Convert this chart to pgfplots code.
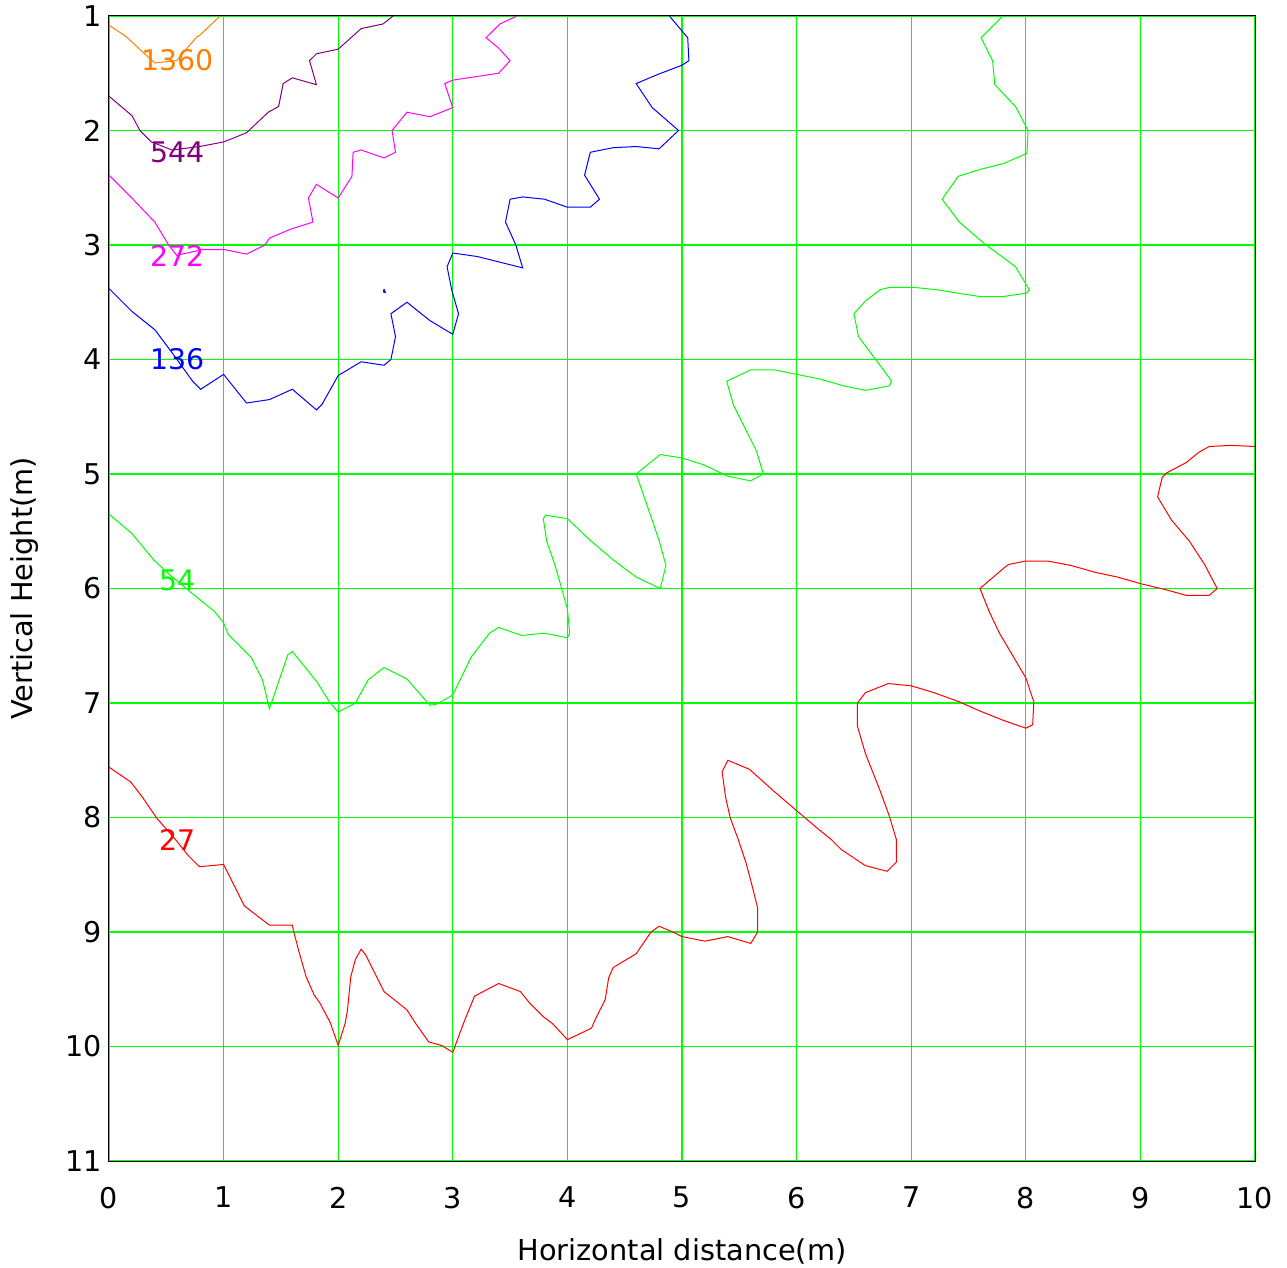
\documentclass[border=0pt]{standalone}
\usepackage{pgfplots}
\pgfplotsset{compat=1.18}
\usepackage{fontspec}
\setmainfont{DejaVu Sans}
\definecolor{corange}{RGB}{255,128,0}
\definecolor{cpurple}{RGB}{128,0,128}
\definecolor{cmagenta}{RGB}{255,0,255}
\definecolor{cblue}{RGB}{0,0,255}
\definecolor{cgreen}{RGB}{0,255,0}
\definecolor{cred}{RGB}{255,0,0}
\begin{document}
\begin{tikzpicture}
\begin{axis}[name=ax, scale only axis, width=573pt, height=572.5pt,
  xmin=0, xmax=10, ymin=1, ymax=11, y dir=reverse,
  xtick={0,...,10}, ytick={1,...,11},
  grid=major, grid style={draw=cgreen, line width=0.6pt},
  major grid style={draw=cgreen, line width=0.6pt},
  axis line style={black, line width=0.5pt},
  major tick length=0pt,
  tick label style={font=\fontsize{14.3}{16}\selectfont},
  /pgf/number format/assume math mode=true,
  xticklabel style={yshift=-9.5pt},
  xlabel={Horizontal distance(m)}, ylabel={Vertical Height(m)},
  label style={font=\fontsize{14.4}{16}\selectfont},
  xlabel style={yshift=-8pt},
  ylabel style={yshift=6.5pt},
  every axis plot/.append style={line width=0.5pt, mark=none},
  clip=true]
\addplot[corange] coordinates {(0,1.08) (0.15,1.18) (0.30,1.32) (0.40,1.41) (0.59,1.39) (0.69,1.27) (0.77,1.18) (0.79,1.17) (0.97,1.0)};
\addplot[cpurple] coordinates {(0,1.70) (0.20,1.87) (0.27,2.0) (0.37,2.10) (0.55,2.17) (0.79,2.14) (1.0,2.10) (1.20,2.02) (1.39,1.84) (1.48,1.79) (1.52,1.59) (1.60,1.54) (1.81,1.60) (1.75,1.39) (1.81,1.33) (2.0,1.29) (2.20,1.11) (2.39,1.07) (2.48,1.0)};
\addplot[cmagenta] coordinates {(0,2.39) (0.20,2.59) (0.40,2.80) (0.52,3.0) (0.59,3.09) (0.82,3.04) (1.01,3.04) (1.20,3.08) (1.36,3.0) (1.40,2.94) (1.59,2.86) (1.78,2.80) (1.74,2.59) (1.81,2.47) (2.0,2.59) (2.12,2.40) (2.13,2.19) (2.20,2.17) (2.40,2.24) (2.50,2.19) (2.47,2.0) (2.60,1.84) (2.80,1.88) (3.0,1.80) (2.93,1.59) (3.0,1.56) (3.40,1.50) (3.50,1.39) (3.40,1.28) (3.29,1.19) (3.41,1.07) (3.56,1.0)};
\addplot[cblue] coordinates {(0,3.38) (0.20,3.58) (0.40,3.74) (0.55,3.94) (0.73,4.19) (0.80,4.26) (1.0,4.13) (1.20,4.38) (1.40,4.35) (1.60,4.26) (1.81,4.44) (1.86,4.39) (2.0,4.14) (2.20,4.02) (2.40,4.05) (2.46,4.0) (2.50,3.80) (2.46,3.60) (2.60,3.50) (2.80,3.66) (3.0,3.78) (3.05,3.60) (2.99,3.39) (2.95,3.19) (3.0,3.07) (3.21,3.10) (3.61,3.20) (3.55,3.0) (3.46,2.80) (3.50,2.60) (3.61,2.58) (3.80,2.60) (4.0,2.67) (4.20,2.67) (4.28,2.60) (4.15,2.39) (4.20,2.19) (4.40,2.15) (4.60,2.14) (4.80,2.16) (4.97,2.0) (4.74,1.80) (4.60,1.59) (4.79,1.51) (5.0,1.43) (5.06,1.39) (5.05,1.19) (4.89,1.0)};
\addplot[cblue] coordinates {(2.400,3.385) (2.412,3.415) (2.395,3.41) (2.400,3.385)};
\addplot[cgreen] coordinates {(0,5.35) (0.20,5.52) (0.39,5.75) (0.53,5.88) (0.71,6.03) (0.92,6.20) (1.0,6.30) (1.04,6.40) (1.24,6.60) (1.34,6.80) (1.40,7.05) (1.56,6.58) (1.60,6.55) (1.81,6.81) (1.93,7.0) (2.0,7.08) (2.15,7.0) (2.26,6.80) (2.40,6.69) (2.60,6.79) (2.80,7.02) (2.86,7.01) (3.0,6.93) (3.16,6.60) (3.32,6.39) (3.40,6.34) (3.60,6.41) (3.80,6.39) (4.0,6.43) (4.02,6.39) (4.0,6.18) (3.95,6.0) (3.89,5.79) (3.82,5.59) (3.79,5.39) (3.81,5.36) (4.0,5.39) (4.20,5.58) (4.40,5.75) (4.60,5.90) (4.81,6.0) (4.86,5.80) (4.80,5.58) (4.67,5.20) (4.60,5.0) (4.81,4.83) (5.0,4.86) (5.19,4.92) (5.40,5.02) (5.60,5.06) (5.71,5.0) (5.65,4.80) (5.55,4.60) (5.45,4.40) (5.39,4.19) (5.60,4.09) (5.80,4.09) (6.0,4.13) (6.20,4.17) (6.41,4.23) (6.60,4.27) (6.81,4.23) (6.83,4.19) (6.69,4.0) (6.54,3.80) (6.50,3.60) (6.60,3.49) (6.73,3.39) (6.81,3.37) (7.02,3.37) (7.22,3.39) (7.40,3.42) (7.60,3.45) (7.80,3.45) (8.01,3.42) (8.03,3.39) (7.91,3.19) (7.79,3.10) (7.64,2.99) (7.42,2.80) (7.27,2.60) (7.41,2.40) (7.60,2.34) (7.80,2.29) (8.01,2.20) (8.02,2.0) (7.91,1.79) (7.73,1.60) (7.71,1.39) (7.61,1.19) (7.80,1.0)};
\addplot[cred] coordinates {(0,7.56) (0.19,7.69) (0.29,7.82) (0.42,8.01) (0.57,8.18) (0.69,8.33) (0.79,8.43) (1.0,8.41) (1.08,8.57) (1.18,8.77) (1.23,8.81) (1.40,8.94) (1.60,8.94) (1.61,8.99) (1.66,9.18) (1.72,9.39) (1.79,9.55) (1.84,9.62) (1.93,9.79) (2.0,9.99) (2.06,9.80) (2.08,9.69) (2.11,9.39) (2.15,9.24) (2.20,9.15) (2.24,9.20) (2.32,9.36) (2.40,9.52) (2.50,9.60) (2.60,9.68) (2.67,9.79) (2.79,9.96) (2.90,9.99) (3.0,10.05) (3.10,9.78) (3.19,9.56) (3.40,9.45) (3.59,9.52) (3.67,9.62) (3.79,9.74) (3.87,9.80) (4.0,9.94) (4.21,9.84) (4.24,9.77) (4.33,9.59) (4.36,9.40) (4.40,9.31) (4.60,9.19) (4.73,9.00) (4.80,8.95) (4.92,9.00) (5.0,9.04) (5.20,9.08) (5.40,9.04) (5.60,9.10) (5.66,9.0) (5.66,8.79) (5.61,8.59) (5.56,8.40) (5.49,8.19) (5.42,8.00) (5.38,7.82) (5.35,7.60) (5.40,7.50) (5.59,7.58) (5.79,7.76) (6.0,7.94) (6.20,8.11) (6.30,8.19) (6.39,8.28) (6.60,8.42) (6.79,8.47) (6.87,8.39) (6.87,8.19) (6.81,7.99) (6.73,7.77) (6.60,7.44) (6.53,7.20) (6.53,7.0) (6.60,6.91) (6.80,6.83) (7.0,6.85) (7.20,6.91) (7.42,6.99) (7.60,7.07) (7.80,7.15) (8.0,7.22) (8.06,7.19) (8.07,6.99) (8.0,6.78) (7.90,6.61) (7.77,6.39) (7.68,6.20) (7.60,6.0) (7.81,5.82) (7.85,5.79) (8.0,5.76) (8.19,5.76) (8.40,5.80) (8.61,5.86) (8.80,5.90) (9.01,5.96) (9.22,6.01) (9.40,6.06) (9.60,6.06) (9.67,6.0) (9.56,5.79) (9.43,5.59) (9.27,5.40) (9.15,5.20) (9.19,5.03) (9.23,4.99) (9.40,4.90) (9.51,4.81) (9.60,4.76) (9.79,4.75) (10.0,4.76)};
\node[text=corange, font=\fontsize{14.2}{16}\selectfont] at (axis cs:0.60,1.384) {1360};
\node[text=cpurple, font=\fontsize{14.2}{16}\selectfont] at (axis cs:0.60,2.19) {544};
\node[text=cmagenta, font=\fontsize{14.2}{16}\selectfont] at (axis cs:0.60,3.10) {272};
\node[text=cblue, font=\fontsize{14.2}{16}\selectfont] at (axis cs:0.60,4.0) {136};
\node[text=cgreen, font=\fontsize{14.2}{16}\selectfont] at (axis cs:0.60,5.93) {54};
\node[text=cred, font=\fontsize{14.2}{16}\selectfont] at (axis cs:0.60,8.20) {27};
\draw[black, line width=0.5pt] (axis cs:0,1) rectangle (axis cs:10,11);
\coordinate (bl) at (axis cs:0,11);
\coordinate (tr) at (axis cs:10,1);
\end{axis}
\pgfresetboundingbox
\path ([shift={(-54.5pt,-53.5pt)}]bl) rectangle ([shift={(16pt,8pt)}]tr);
\end{tikzpicture}
\end{document}
